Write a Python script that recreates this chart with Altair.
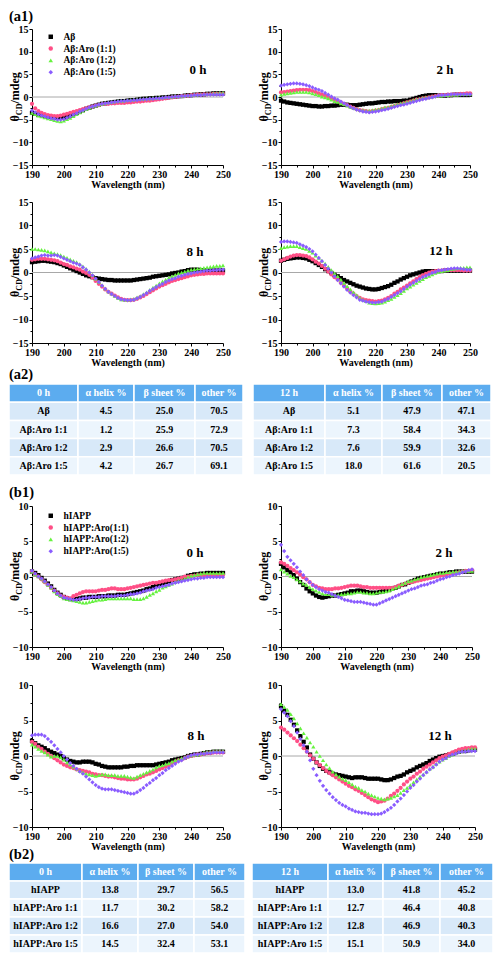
import altair as alt
import pandas as pd

WAVELENGTH = list(range(190, 251))

AB_SERIES = ["Aβ", "Aβ:Aro (1:1)", "Aβ:Aro (1:2)", "Aβ:Aro (1:5)"]
IAPP_SERIES = ["hIAPP", "hIAPP:Aro(1:1)", "hIAPP:Aro(1:2)", "hIAPP:Aro(1:5)"]

# ---------------- (a1) Abeta, 0 h ----------------
AB_0H_CTRL = [-3.5, -3.7, -3.9, -4.0, -4.2, -4.3, -4.4, -4.5, -4.6, -4.6,
              -4.5, -4.3, -4.1, -3.8, -3.5, -3.2, -2.9, -2.6, -2.4, -2.1,
              -1.9, -1.7, -1.5, -1.4, -1.3, -1.2, -1.1, -1.0, -0.9, -0.9,
              -0.8, -0.7, -0.7, -0.6, -0.5, -0.4, -0.4, -0.3, -0.3, -0.2,
              -0.2, -0.1, -0.1, 0.0, 0.1, 0.1, 0.2, 0.2, 0.3, 0.4,
              0.4, 0.5, 0.5, 0.6, 0.6, 0.7, 0.7, 0.8, 0.8, 0.8, 0.8]
AB_0H_R11 = [-1.5, -2.5, -3.1, -3.5, -3.8, -4.0, -4.1, -4.2, -4.2, -4.1,
             -3.9, -3.7, -3.5, -3.3, -3.1, -2.9, -2.7, -2.5, -2.3, -2.1,
             -1.9, -1.8, -1.6, -1.5, -1.5, -1.4, -1.4, -1.3, -1.3, -1.3,
             -1.2, -1.2, -1.1, -1.0, -1.0, -0.9, -0.8, -0.8, -0.7, -0.6,
             -0.5, -0.4, -0.3, -0.2, -0.1, 0.0, 0.1, 0.2, 0.2, 0.3,
             0.4, 0.4, 0.5, 0.5, 0.6, 0.6, 0.6, 0.7, 0.7, 0.7, 0.7]
AB_0H_R12 = [-3.5, -3.8, -4.1, -4.3, -4.5, -4.7, -4.9, -5.1, -5.3, -5.4,
             -5.2, -4.9, -4.6, -4.2, -3.8, -3.4, -3.0, -2.7, -2.4, -2.1,
             -1.9, -1.7, -1.5, -1.3, -1.2, -1.1, -1.0, -0.9, -0.8, -0.8,
             -0.7, -0.6, -0.6, -0.5, -0.4, -0.4, -0.3, -0.3, -0.2, -0.2,
             -0.1, -0.1, 0.0, 0.0, 0.1, 0.2, 0.2, 0.3, 0.3, 0.4,
             0.4, 0.5, 0.5, 0.6, 0.6, 0.7, 0.7, 0.8, 0.8, 0.9, 0.9]
AB_0H_R15 = [-3.0, -3.4, -3.8, -4.1, -4.3, -4.5, -4.7, -4.8, -5.0, -5.0,
             -4.9, -4.6, -4.3, -3.9, -3.6, -3.2, -2.9, -2.6, -2.3, -2.1,
             -1.9, -1.7, -1.5, -1.4, -1.3, -1.2, -1.1, -1.0, -0.9, -0.9,
             -0.8, -0.8, -0.7, -0.7, -0.6, -0.5, -0.5, -0.4, -0.4, -0.3,
             -0.3, -0.2, -0.1, -0.1, 0.0, 0.1, 0.1, 0.2, 0.2, 0.3,
             0.3, 0.4, 0.4, 0.4, 0.5, 0.5, 0.5, 0.5, 0.5, 0.5, 0.5]

# ---------------- (a1) Abeta, 2 h ----------------
AB_2H_CTRL = [-0.8, -1.0, -1.2, -1.3, -1.4, -1.5, -1.6, -1.7, -1.8, -1.9,
              -2.0, -2.0, -2.1, -2.1, -2.0, -2.0, -1.9, -1.9, -1.8, -1.7,
              -1.7, -1.7, -1.8, -1.8, -1.8, -1.7, -1.6, -1.5, -1.4, -1.4,
              -1.3, -1.2, -1.1, -1.1, -1.0, -1.0, -0.9, -0.9, -0.9, -0.8,
              -0.8, -0.6, -0.4, -0.2, 0.0, 0.2, 0.3, 0.4, 0.4, 0.4,
              0.3, 0.3, 0.3, 0.4, 0.4, 0.5, 0.5, 0.5, 0.5, 0.5, 0.5]
AB_2H_R11 = [1.0, 1.1, 1.2, 1.3, 1.4, 1.5, 1.6, 1.6, 1.6, 1.5,
             1.3, 1.1, 0.8, 0.5, 0.3, 0.0, -0.3, -0.6, -0.9, -1.2,
             -1.5, -1.8, -2.1, -2.4, -2.7, -2.9, -3.0, -3.1, -3.2, -3.1,
             -3.0, -2.9, -2.7, -2.5, -2.4, -2.2, -2.0, -1.8, -1.6, -1.4,
             -1.2, -1.0, -0.8, -0.6, -0.5, -0.3, -0.2, -0.1, 0.1, 0.2,
             0.3, 0.4, 0.4, 0.5, 0.5, 0.6, 0.6, 0.7, 0.7, 0.8, 0.8]
AB_2H_R12 = [0.5, 0.7, 0.8, 0.9, 1.0, 1.1, 1.1, 1.1, 1.1, 1.0,
             0.8, 0.6, 0.4, 0.1, -0.1, -0.3, -0.6, -0.9, -1.1, -1.4,
             -1.6, -1.9, -2.2, -2.4, -2.6, -2.8, -2.9, -3.0, -3.0, -2.9,
             -2.8, -2.7, -2.5, -2.3, -2.2, -2.0, -1.8, -1.6, -1.4, -1.3,
             -1.1, -0.9, -0.7, -0.5, -0.4, -0.2, -0.1, 0.0, 0.1, 0.2,
             0.3, 0.3, 0.4, 0.4, 0.5, 0.5, 0.5, 0.6, 0.6, 0.6, 0.6]
AB_2H_R15 = [2.5, 2.7, 2.8, 2.9, 3.0, 3.0, 2.9, 2.8, 2.6, 2.4,
             2.1, 1.8, 1.6, 1.3, 0.9, 0.5, 0.1, -0.3, -0.6, -1.0,
             -1.4, -1.8, -2.2, -2.5, -2.8, -3.0, -3.2, -3.3, -3.4, -3.3,
             -3.2, -3.1, -2.9, -2.8, -2.6, -2.4, -2.2, -2.0, -1.8, -1.7,
             -1.5, -1.3, -1.1, -0.9, -0.7, -0.5, -0.4, -0.2, -0.1, 0.1,
             0.3, 0.4, 0.4, 0.5, 0.6, 0.6, 0.6, 0.6, 0.6, 0.6, 0.6]

# ---------------- (a1) Abeta, 8 h ----------------
AB_8H_CTRL = [2.2, 2.3, 2.4, 2.5, 2.5, 2.4, 2.3, 2.2, 2.0, 1.8,
              1.5, 1.2, 0.9, 0.6, 0.3, 0.0, -0.3, -0.6, -0.8, -1.0,
              -1.2, -1.3, -1.4, -1.5, -1.6, -1.6, -1.7, -1.7, -1.7, -1.7,
              -1.7, -1.7, -1.6, -1.5, -1.4, -1.3, -1.2, -1.1, -0.9, -0.8,
              -0.7, -0.6, -0.5, -0.4, -0.2, -0.1, 0.0, 0.2, 0.3, 0.5,
              0.6, 0.6, 0.6, 0.5, 0.5, 0.4, 0.4, 0.4, 0.4, 0.4, 0.4]
AB_8H_R11 = [2.7, 2.8, 2.9, 2.9, 2.9, 2.8, 2.7, 2.6, 2.4, 2.1,
             1.8, 1.6, 1.3, 1.1, 0.8, 0.6, 0.2, -0.1, -0.5, -1.1,
             -1.8, -2.4, -3.0, -3.6, -4.1, -4.5, -4.9, -5.3, -5.6, -5.8,
             -5.9, -5.9, -5.8, -5.6, -5.3, -5.0, -4.6, -4.2, -3.8, -3.4,
             -3.0, -2.7, -2.4, -2.1, -1.8, -1.6, -1.4, -1.2, -1.0, -0.8,
             -0.6, -0.5, -0.4, -0.3, -0.3, -0.2, -0.2, -0.2, -0.2, -0.2, -0.2]
AB_8H_R12 = [5.0, 5.0, 4.9, 4.8, 4.7, 4.5, 4.3, 4.1, 3.9, 3.7,
             3.4, 3.1, 2.8, 2.5, 2.2, 1.8, 1.3, 0.8, 0.2, -0.5,
             -1.3, -2.0, -2.7, -3.4, -4.0, -4.5, -5.0, -5.4, -5.7, -5.8,
             -5.8, -5.7, -5.6, -5.3, -5.0, -4.6, -4.2, -3.7, -3.2, -2.8,
             -2.3, -1.9, -1.5, -1.1, -0.8, -0.5, -0.2, 0.0, 0.2, 0.4,
             0.6, 0.7, 0.8, 0.9, 1.0, 1.1, 1.2, 1.3, 1.4, 1.4, 1.5]
AB_8H_R15 = [3.0, 3.2, 3.4, 3.6, 3.7, 3.6, 3.6, 3.7, 3.6, 3.3,
             3.0, 2.7, 2.4, 2.1, 1.9, 1.6, 1.1, 0.6, 0.0, -0.6,
             -1.3, -2.0, -2.8, -3.5, -4.1, -4.6, -5.0, -5.4, -5.7, -5.8,
             -5.9, -5.9, -5.8, -5.5, -5.2, -4.8, -4.4, -3.9, -3.5, -3.1,
             -2.7, -2.4, -2.0, -1.7, -1.4, -1.2, -0.9, -0.7, -0.5, -0.3,
             -0.2, 0.0, 0.1, 0.2, 0.3, 0.4, 0.4, 0.5, 0.5, 0.6, 0.6]

# ---------------- (a1) Abeta, 12 h ----------------
AB_12H_CTRL = [2.5, 2.7, 2.9, 3.0, 3.1, 3.2, 3.2, 3.1, 3.0, 2.7,
               2.4, 2.0, 1.6, 1.2, 0.7, 0.3, -0.1, -0.5, -0.8, -1.2,
               -1.6, -1.9, -2.2, -2.5, -2.8, -3.0, -3.2, -3.4, -3.5, -3.6,
               -3.6, -3.5, -3.3, -3.1, -2.9, -2.6, -2.2, -1.9, -1.5, -1.2,
               -0.9, -0.6, -0.4, -0.2, 0.0, 0.2, 0.3, 0.3, 0.3, 0.3,
               0.3, 0.3, 0.4, 0.4, 0.4, 0.4, 0.4, 0.4, 0.4, 0.4, 0.4]
AB_12H_R11 = [2.5, 2.8, 3.1, 3.4, 3.6, 3.7, 3.7, 3.6, 3.5, 3.2,
              2.8, 2.3, 1.9, 1.4, 0.8, 0.2, -0.4, -1.0, -1.5, -2.2,
              -2.8, -3.4, -4.0, -4.5, -5.0, -5.4, -5.7, -5.9, -6.0, -6.1,
              -6.2, -6.1, -6.0, -5.7, -5.4, -5.0, -4.5, -4.1, -3.6, -3.2,
              -2.8, -2.3, -1.9, -1.4, -1.0, -0.6, -0.3, 0.0, 0.2, 0.3,
              0.4, 0.4, 0.5, 0.5, 0.5, 0.5, 0.5, 0.5, 0.4, 0.4, 0.4]
AB_12H_R12 = [5.2, 5.4, 5.5, 5.6, 5.6, 5.6, 5.4, 5.2, 5.0, 4.6,
              4.2, 3.6, 3.1, 2.5, 1.9, 1.2, 0.5, -0.2, -0.8, -1.5,
              -2.2, -2.9, -3.6, -4.2, -4.8, -5.4, -5.8, -6.1, -6.4, -6.5,
              -6.6, -6.5, -6.4, -6.2, -5.9, -5.6, -5.2, -4.8, -4.4, -3.9,
              -3.4, -3.0, -2.6, -2.2, -1.8, -1.4, -1.0, -0.7, -0.4, -0.1,
              0.1, 0.3, 0.4, 0.5, 0.7, 0.8, 0.9, 1.0, 1.0, 1.1, 1.1]
AB_12H_R15 = [6.5, 6.6, 6.6, 6.5, 6.4, 6.3, 6.0, 5.7, 5.4, 5.0,
              4.5, 3.8, 3.1, 2.4, 1.6, 0.8, 0.0, -0.8, -1.6, -2.3,
              -3.0, -3.7, -4.3, -4.8, -5.3, -5.8, -6.0, -6.2, -6.3, -6.4,
              -6.4, -6.3, -6.2, -5.9, -5.6, -5.2, -4.8, -4.4, -4.0, -3.5,
              -3.0, -2.6, -2.2, -1.8, -1.4, -1.0, -0.7, -0.4, -0.1, 0.1,
              0.4, 0.5, 0.6, 0.7, 0.8, 0.9, 0.9, 0.8, 0.7, 0.6, 0.6]

# ---------------- (b1) hIAPP, 0 h ----------------
IAPP_0H_CTRL = [0.7, 0.5, 0.2, -0.2, -0.6, -1.0, -1.4, -1.9, -2.3, -2.6,
                -2.9, -3.1, -3.2, -3.2, -3.2, -3.1, -3.0, -3.0, -2.9, -2.9,
                -2.9, -2.8, -2.8, -2.8, -2.7, -2.7, -2.7, -2.6, -2.6, -2.6,
                -2.5, -2.4, -2.3, -2.2, -2.1, -2.0, -1.8, -1.7, -1.5, -1.3,
                -1.1, -1.0, -0.8, -0.7, -0.5, -0.4, -0.3, -0.2, -0.1, 0.1,
                0.2, 0.3, 0.3, 0.4, 0.4, 0.5, 0.5, 0.5, 0.5, 0.5, 0.5]
IAPP_0H_R11 = [0.7, 0.3, 0.0, -0.4, -0.8, -1.2, -1.6, -2.0, -2.4, -2.7,
               -2.9, -3.0, -3.1, -2.8, -2.6, -2.4, -2.2, -2.1, -2.1, -2.1,
               -2.1, -2.0, -1.9, -1.9, -1.8, -1.7, -1.7, -1.8, -1.8, -1.8,
               -1.7, -1.6, -1.5, -1.4, -1.3, -1.2, -1.1, -1.0, -0.9, -0.9,
               -0.8, -0.7, -0.6, -0.5, -0.5, -0.4, -0.3, -0.2, 0.0, 0.0,
               0.1, 0.1, 0.2, 0.2, 0.2, 0.2, 0.2, 0.2, 0.2, 0.2, 0.2]
IAPP_0H_R12 = [0.7, 0.3, 0.0, -0.3, -0.7, -1.2, -1.6, -2.1, -2.5, -2.8,
               -3.1, -3.2, -3.3, -3.4, -3.5, -3.6, -3.7, -3.7, -3.6, -3.5,
               -3.4, -3.3, -3.3, -3.2, -3.1, -3.1, -3.1, -3.1, -3.1, -3.1,
               -3.1, -3.1, -3.2, -3.2, -3.2, -3.1, -2.9, -2.6, -2.4, -2.1,
               -1.9, -1.6, -1.4, -1.2, -1.0, -0.8, -0.6, -0.5, -0.3, -0.1,
               0.1, 0.2, 0.3, 0.4, 0.5, 0.5, 0.5, 0.5, 0.5, 0.5, 0.5]
IAPP_0H_R15 = [0.8, 0.4, 0.0, -0.3, -0.7, -1.1, -1.5, -2.0, -2.4, -2.7,
               -3.0, -3.1, -3.2, -3.3, -3.3, -3.2, -3.1, -3.0, -3.0, -2.9,
               -2.9, -2.9, -2.8, -2.8, -2.8, -2.8, -2.8, -2.7, -2.7, -2.7,
               -2.6, -2.5, -2.5, -2.4, -2.3, -2.1, -2.0, -1.9, -1.8, -1.6,
               -1.5, -1.4, -1.3, -1.2, -1.0, -0.9, -0.8, -0.7, -0.6, -0.5,
               -0.4, -0.3, -0.3, -0.2, -0.2, -0.1, -0.1, -0.1, -0.1, -0.1, -0.1]

# ---------------- (b1) hIAPP, 2 h ----------------
IAPP_2H_CTRL = [1.8, 1.3, 0.9, 0.6, 0.2, -0.3, -0.8, -1.2, -1.7, -2.1,
                -2.4, -2.7, -2.9, -3.0, -2.9, -2.8, -2.7, -2.7, -2.6, -2.5,
                -2.4, -2.3, -2.1, -2.1, -2.0, -2.0, -2.1, -2.2, -2.3, -2.3,
                -2.3, -2.2, -2.1, -2.0, -1.9, -1.7, -1.6, -1.4, -1.2, -1.1,
                -0.9, -0.7, -0.5, -0.3, -0.2, -0.1, 0.0, 0.1, 0.2, 0.3,
                0.4, 0.4, 0.5, 0.6, 0.6, 0.7, 0.7, 0.7, 0.7, 0.7, 0.7]
IAPP_2H_R11 = [2.0, 1.8, 1.5, 1.2, 0.9, 0.6, 0.3, -0.1, -0.4, -0.8,
               -1.2, -1.4, -1.6, -1.7, -1.8, -1.8, -1.8, -1.7, -1.7, -1.6,
               -1.5, -1.4, -1.3, -1.3, -1.3, -1.4, -1.5, -1.5, -1.6, -1.6,
               -1.6, -1.6, -1.6, -1.6, -1.6, -1.6, -1.5, -1.3, -1.2, -1.0,
               -0.9, -0.8, -0.7, -0.6, -0.5, -0.4, -0.3, -0.2, -0.1, 0.0,
               0.1, 0.2, 0.3, 0.4, 0.4, 0.5, 0.6, 0.7, 0.8, 0.8, 0.9]
IAPP_2H_R12 = [1.0, 0.7, 0.4, 0.1, -0.1, -0.4, -0.7, -1.0, -1.2, -1.5,
               -1.8, -2.0, -2.2, -2.4, -2.5, -2.5, -2.6, -2.6, -2.6, -2.5,
               -2.5, -2.4, -2.4, -2.3, -2.2, -2.2, -2.3, -2.3, -2.4, -2.4,
               -2.3, -2.2, -2.2, -2.1, -2.0, -1.8, -1.6, -1.4, -1.1, -0.9,
               -0.7, -0.6, -0.4, -0.3, -0.1, 0.0, 0.1, 0.2, 0.3, 0.4,
               0.5, 0.5, 0.6, 0.6, 0.7, 0.7, 0.7, 0.8, 0.8, 0.8, 0.8]
IAPP_2H_R15 = [4.5, 3.6, 2.8, 2.3, 1.8, 1.3, 0.7, 0.2, -0.4, -0.8,
               -1.2, -1.5, -1.8, -2.0, -2.2, -2.3, -2.5, -2.7, -2.9, -3.1,
               -3.3, -3.4, -3.5, -3.6, -3.6, -3.6, -3.7, -3.8, -3.9, -4.0,
               -4.0, -3.8, -3.6, -3.4, -3.2, -3.0, -2.8, -2.6, -2.4, -2.2,
               -2.0, -1.8, -1.7, -1.5, -1.3, -1.2, -1.1, -0.9, -0.8, -0.6,
               -0.4, -0.3, -0.1, 0.0, 0.2, 0.3, 0.4, 0.6, 0.7, 0.9, 1.0]

# ---------------- (b1) hIAPP, 8 h ----------------
IAPP_8H_CTRL = [2.1, 1.8, 1.5, 1.3, 1.1, 0.8, 0.6, 0.4, 0.2, 0.0,
                -0.3, -0.5, -0.7, -0.8, -0.9, -0.9, -0.8, -0.8, -0.8, -0.9,
                -1.1, -1.2, -1.4, -1.5, -1.6, -1.6, -1.6, -1.6, -1.6, -1.5,
                -1.5, -1.4, -1.4, -1.3, -1.3, -1.3, -1.3, -1.3, -1.3, -1.2,
                -1.1, -1.0, -0.9, -0.8, -0.6, -0.5, -0.4, -0.3, -0.2, 0.0,
                0.1, 0.2, 0.2, 0.3, 0.4, 0.5, 0.5, 0.6, 0.6, 0.6, 0.6]
IAPP_8H_R11 = [2.0, 1.7, 1.3, 1.0, 0.6, 0.3, 0.0, -0.3, -0.6, -0.9,
               -1.2, -1.4, -1.6, -1.7, -1.9, -2.0, -2.1, -2.2, -2.3, -2.5,
               -2.6, -2.7, -2.7, -2.8, -2.9, -2.9, -3.0, -3.1, -3.2, -3.2,
               -3.3, -3.3, -3.3, -3.2, -3.0, -2.8, -2.6, -2.5, -2.3, -2.1,
               -1.9, -1.7, -1.5, -1.3, -1.0, -0.8, -0.6, -0.5, -0.3, -0.1,
               0.0, 0.1, 0.2, 0.2, 0.3, 0.4, 0.4, 0.5, 0.5, 0.5, 0.5]
IAPP_8H_R12 = [1.6, 1.3, 1.0, 0.7, 0.5, 0.2, -0.1, 0.0, 0.0, -0.2,
               -0.5, -0.9, -1.2, -1.5, -1.8, -2.1, -2.3, -2.5, -2.6, -2.7,
               -2.8, -2.7, -2.6, -2.6, -2.7, -2.7, -2.7, -2.8, -2.8, -2.8,
               -2.9, -3.0, -3.1, -2.9, -2.7, -2.5, -2.3, -2.1, -1.9, -1.6,
               -1.4, -1.3, -1.1, -1.0, -0.8, -0.6, -0.5, -0.3, -0.2, 0.0,
               0.1, 0.2, 0.2, 0.3, 0.5, 0.6, 0.6, 0.7, 0.7, 0.7, 0.7]
IAPP_8H_R15 = [2.9, 3.0, 3.0, 3.0, 2.8, 2.4, 2.0, 1.5, 1.0, 0.5,
               0.0, -0.5, -1.0, -1.4, -1.8, -2.2, -2.5, -2.9, -3.3, -3.7,
               -4.1, -4.4, -4.6, -4.7, -4.7, -4.7, -4.8, -4.9, -5.0, -5.1,
               -5.2, -5.3, -5.3, -5.1, -4.8, -4.5, -4.1, -3.8, -3.4, -3.1,
               -2.7, -2.4, -2.0, -1.7, -1.4, -1.1, -0.8, -0.6, -0.3, -0.1,
               0.1, 0.2, 0.2, 0.3, 0.3, 0.4, 0.4, 0.5, 0.5, 0.5, 0.5]

# ---------------- (b1) hIAPP, 12 h ----------------
IAPP_12H_CTRL = [7.0, 6.4, 5.8, 5.1, 4.4, 3.6, 2.8, 2.0, 1.2, 0.2,
                 -0.4, -0.9, -1.4, -1.8, -2.1, -2.3, -2.5, -2.6, -2.7, -2.8,
                 -2.9, -3.0, -3.1, -3.0, -3.0, -3.0, -3.1, -3.2, -3.2, -3.2,
                 -3.2, -3.3, -3.4, -3.4, -3.3, -3.1, -2.9, -2.8, -2.6, -2.3,
                 -2.1, -1.9, -1.6, -1.4, -1.2, -1.0, -0.7, -0.5, -0.3, -0.1,
                 0.0, 0.1, 0.2, 0.3, 0.5, 0.6, 0.7, 0.7, 0.8, 0.9, 0.9]
IAPP_12H_R11 = [4.0, 3.7, 3.3, 2.9, 2.5, 2.1, 1.6, 1.1, 0.6, 0.1,
                -0.4, -0.9, -1.3, -1.7, -2.1, -2.4, -2.7, -3.0, -3.3, -3.6,
                -3.9, -4.2, -4.4, -4.7, -4.9, -5.2, -5.5, -5.8, -6.1, -6.3,
                -6.5, -6.4, -6.3, -6.0, -5.6, -5.3, -4.9, -4.5, -4.0, -3.6,
                -3.2, -2.9, -2.5, -2.2, -1.8, -1.5, -1.2, -0.9, -0.6, -0.3,
                -0.1, 0.1, 0.3, 0.5, 0.7, 0.9, 1.0, 1.1, 1.1, 1.2, 1.2]
IAPP_12H_R12 = [7.3, 6.9, 6.5, 5.9, 5.3, 4.6, 3.9, 3.2, 2.6, 1.9,
                1.3, 0.6, 0.0, -0.6, -1.2, -1.7, -2.2, -2.6, -2.9, -3.2,
                -3.4, -3.7, -4.0, -4.3, -4.5, -4.8, -5.0, -5.3, -5.5, -5.7,
                -5.9, -6.0, -6.1, -6.0, -5.9, -5.7, -5.5, -5.2, -4.8, -4.5,
                -4.1, -3.7, -3.3, -2.9, -2.6, -2.2, -1.8, -1.5, -1.1, -0.8,
                -0.5, -0.3, 0.0, 0.2, 0.4, 0.6, 0.7, 0.8, 0.9, 1.0, 1.0]
IAPP_12H_R15 = [6.6, 6.1, 5.6, 4.9, 4.2, 3.3, 2.4, 1.5, 0.6, -0.6,
                -1.8, -2.7, -3.5, -4.2, -4.8, -5.3, -5.8, -6.2, -6.6, -6.9,
                -7.1, -7.4, -7.6, -7.8, -7.9, -8.0, -8.0, -8.1, -8.2, -8.2,
                -8.2, -8.1, -7.9, -7.6, -7.3, -6.9, -6.4, -6.0, -5.5, -5.0,
                -4.5, -4.1, -3.6, -3.2, -2.7, -2.3, -1.9, -1.6, -1.2, -0.8,
                -0.5, -0.3, 0.0, 0.2, 0.3, 0.5, 0.6, 0.6, 0.7, 0.7, 0.7]

# ---------------- tables (a2) and (b2) ----------------
TABLE_COLUMNS = ["α helix %", "β sheet %", "other %"]
AB_TABLE_ROWS = ["Aβ", "Aβ:Aro 1:1", "Aβ:Aro 1:2", "Aβ:Aro 1:5"]
IAPP_TABLE_ROWS = ["hIAPP", "hIAPP:Aro 1:1", "hIAPP:Aro 1:2", "hIAPP:Aro 1:5"]

AB_0H_HELIX = [4.5, 1.2, 2.9, 4.2]
AB_0H_SHEET = [25.0, 25.9, 26.6, 26.7]
AB_0H_OTHER = [70.5, 72.9, 70.5, 69.1]
AB_12H_HELIX = [5.1, 7.3, 7.6, 18.0]
AB_12H_SHEET = [47.9, 58.4, 59.9, 61.6]
AB_12H_OTHER = [47.1, 34.3, 32.6, 20.5]
IAPP_0H_HELIX = [13.8, 11.7, 16.6, 14.5]
IAPP_0H_SHEET = [29.7, 30.2, 27.0, 32.4]
IAPP_0H_OTHER = [56.5, 58.2, 54.0, 53.1]
IAPP_12H_HELIX = [13.0, 12.7, 12.8, 15.1]
IAPP_12H_SHEET = [41.8, 46.4, 46.9, 50.9]
IAPP_12H_OTHER = [45.2, 40.8, 40.3, 34.0]

# y-axis title pieces: theta, subscript "CD", "/mdeg"
YTITLE_MAIN = "θ"
YTITLE_SUB = "CD"
YTITLE_TAIL = "/mdeg"

# ---------------- styling ----------------
SERIF = "Liberation Serif"
SERIES_COLORS = ["#000000", "#ff4f86", "#66f23f", "#8a5cff"]
SERIES_SHAPES = ["square", "circle", "triangle-up", "diamond"]
HEADER_BLUE = "#5cacef"
ROW_BLUE = "#d8e9f9"
ROW_PALE = "#ecf5fd"


def long_frame(series, arrays):
    rows = []
    for name, vals in zip(series, arrays):
        if len(vals) != len(WAVELENGTH):
            raise ValueError(f"{name}: {len(vals)} values")
        for w, v in zip(WAVELENGTH, vals):
            rows.append({"wl": w, "cd": v, "series": name})
    return pd.DataFrame(rows)


def note(text, x, y, size, angle=0, align="left", baseline="alphabetic", color="black"):
    return alt.Chart(pd.DataFrame({"t": [text]})).mark_text(
        font=SERIF, fontWeight="bold", fontSize=size, align=align, baseline=baseline,
        angle=angle, color=color).encode(text="t:N", x=alt.value(x), y=alt.value(y))


def cd_panel(series, arrays, label, ydomain, width, height, label_xy, legend_xy=None):
    df = long_frame(series, arrays)
    xscale = alt.Scale(domain=[190, 250], nice=False, zero=False)
    yscale = alt.Scale(domain=list(ydomain), nice=False, zero=False)
    xenc = alt.X("wl:Q", scale=xscale,
                 axis=alt.Axis(values=list(range(190, 251, 10)), title="Wavelength (nm)",
                               titlePadding=0, orient="bottom"))
    yenc = alt.Y("cd:Q", scale=yscale,
                 axis=alt.Axis(values=list(range(ydomain[0], ydomain[1] + 1, 5)),
                               title=None, orient="left"))
    minor_y = [v + 2.5 for v in range(ydomain[0], ydomain[1], 5)]
    xminor = alt.X("wl:Q", scale=xscale,
                   axis=alt.Axis(values=list(range(195, 250, 10)), labels=False, title=None,
                                 domain=False, tickSize=2, orient="bottom"))
    yminor = alt.Y("cd:Q", scale=yscale,
                   axis=alt.Axis(values=minor_y, labels=False, title=None,
                                 domain=False, tickSize=2, orient="left"))
    if legend_xy is not None:
        leg = alt.Legend(orient="none", legendX=legend_xy[0], legendY=legend_xy[1], title=None,
                         labelFont=SERIF, labelFontWeight="bold", labelFontSize=9.5,
                         labelColor="black", symbolSize=20, rowPadding=0.8, padding=0,
                         labelOffset=8, symbolStrokeWidth=0)
    else:
        leg = None
    zero = alt.Chart(pd.DataFrame({"z": [0]})).mark_rule(color="#a8a8a8", strokeWidth=1).encode(
        y=alt.YDatum(0, axis=None))
    pts = alt.Chart(df).mark_point(filled=True, size=18, opacity=1).encode(
        x=xenc, y=yenc,
        color=alt.Color("series:N", scale=alt.Scale(domain=series, range=SERIES_COLORS), legend=leg),
        shape=alt.Shape("series:N", scale=alt.Scale(domain=series, range=SERIES_SHAPES), legend=leg),
    )
    minor = alt.Chart(df).mark_point(opacity=0, size=1).encode(x=xminor, y=yminor)
    txt = note(label, label_xy[0], label_xy[1], 13, align="center")
    # rotated y title "θ_CD/mdeg" with a real subscript
    bx = -13.5
    w_main, w_sub = 6.3, 11.6
    total = w_main + w_sub + 31.0
    y0 = height / 2 + total / 2
    t_main = note(YTITLE_MAIN, bx, y0, 12, angle=270)
    t_sub = note(YTITLE_SUB, bx + 3, y0 - w_main, 8, angle=270)
    t_tail = note(YTITLE_TAIL, bx, y0 - w_main - w_sub, 12, angle=270)
    return alt.layer(zero, pts, minor, txt, t_main, t_sub, t_tail).resolve_axis(
        x="independent", y="independent").properties(width=width, height=height)


def spacer(height, width, label="", label_y=None):
    if label_y is None:
        label_y = height - 2
    return note(label, -23 if label else 0, label_y, 14.5).properties(width=width, height=height)


def table(first_header, row_labels, helix, sheet, other, col_widths, x_extent, width, height):
    headers = [first_header] + TABLE_COLUMNS
    values = [helix, sheet, other]
    edges = [0]
    for w in col_widths:
        edges.append(edges[-1] + w)
    cells = []
    for r in range(5):
        for c in range(4):
            if r == 0:
                txt = headers[c]
            elif c == 0:
                txt = row_labels[r - 1]
            else:
                txt = f"{values[c - 1][r - 1]:.1f}"
            cells.append({"row": r, "left": edges[c], "right": edges[c + 1],
                          "mid": (edges[c] + edges[c + 1]) / 2, "text": txt})
    df = pd.DataFrame(cells)
    xs = alt.Scale(domain=[0, edges[-1]], range=list(x_extent), nice=False, zero=False)
    ys = alt.Scale(domain=[0, 1, 2, 3, 4], paddingInner=0, paddingOuter=0)
    base = alt.Chart(df)
    rects = base.mark_rect(stroke="white", strokeWidth=1.5).encode(
        x=alt.X("left:Q", scale=xs, axis=None), x2="right:Q",
        y=alt.Y("row:O", scale=ys, axis=None),
        fill=alt.Fill("row:O", scale=alt.Scale(domain=[0, 1, 2, 3, 4],
                                               range=[HEADER_BLUE, ROW_BLUE, ROW_PALE, ROW_BLUE, ROW_PALE]),
                      legend=None))
    head = base.transform_filter("datum.row == 0").mark_text(
        font=SERIF, fontWeight="bold", fontSize=10, color="white").encode(
        x=alt.X("mid:Q", scale=xs, axis=None), y=alt.Y("row:O", scale=ys, axis=None), text="text:N")
    body = base.transform_filter("datum.row > 0").mark_text(
        font=SERIF, fontWeight="bold", fontSize=10, color="black").encode(
        x=alt.X("mid:Q", scale=xs, axis=None), y=alt.Y("row:O", scale=ys, axis=None), text="text:N")
    return alt.layer(rects, head, body).properties(width=width, height=height)


AB_DOM = (-15, 15)
IAPP_DOM = (-10, 10)

a0 = cd_panel(AB_SERIES, [AB_0H_CTRL, AB_0H_R11, AB_0H_R12, AB_0H_R15], "0 h", AB_DOM, 191, 136,
              (166, 45), legend_xy=(14, 3))
a2 = cd_panel(AB_SERIES, [AB_2H_CTRL, AB_2H_R11, AB_2H_R12, AB_2H_R15], "2 h", AB_DOM, 189, 136,
              (164, 45))
a8 = cd_panel(AB_SERIES, [AB_8H_CTRL, AB_8H_R11, AB_8H_R12, AB_8H_R15], "8 h", AB_DOM, 191, 141,
              (163, 54))
a12 = cd_panel(AB_SERIES, [AB_12H_CTRL, AB_12H_R11, AB_12H_R12, AB_12H_R15], "12 h", AB_DOM, 189, 141,
               (160, 53))
b0 = cd_panel(IAPP_SERIES, [IAPP_0H_CTRL, IAPP_0H_R11, IAPP_0H_R12, IAPP_0H_R15], "0 h", IAPP_DOM,
              191, 141, (163, 51), legend_xy=(14, 5))
b2 = cd_panel(IAPP_SERIES, [IAPP_2H_CTRL, IAPP_2H_R11, IAPP_2H_R12, IAPP_2H_R15], "2 h", IAPP_DOM,
              191, 141, (163, 51))
b8 = cd_panel(IAPP_SERIES, [IAPP_8H_CTRL, IAPP_8H_R11, IAPP_8H_R12, IAPP_8H_R15], "8 h", IAPP_DOM,
              191, 142, (164, 55))
b12 = cd_panel(IAPP_SERIES, [IAPP_12H_CTRL, IAPP_12H_R11, IAPP_12H_R12, IAPP_12H_R15], "12 h", IAPP_DOM,
               194, 142, (159, 55))

tA_left = table("0 h", AB_TABLE_ROWS, AB_0H_HELIX, AB_0H_SHEET, AB_0H_OTHER,
                [69, 56, 61, 48], (-23, 211), 191, 91)
tA_right = table("12 h", AB_TABLE_ROWS, AB_12H_HELIX, AB_12H_SHEET, AB_12H_OTHER,
                 [72, 57, 60, 49], (-28, 210), 189, 91)
tB_left = table("0 h", IAPP_TABLE_ROWS, IAPP_0H_HELIX, IAPP_0H_SHEET, IAPP_0H_OTHER,
                [73, 56, 56, 51], (-23, 213), 191, 90)
tB_right = table("12 h", IAPP_TABLE_ROWS, IAPP_12H_HELIX, IAPP_12H_SHEET, IAPP_12H_OTHER,
                 [76, 55, 57, 53], (-29, 212), 191, 90)

cells = [
    spacer(20, 191, "(a1)", 11.5), spacer(20, 189),
    a0, a2,
    spacer(37, 191), spacer(37, 189),
    a8, a12,
    spacer(41, 191, "(a2)", 36), spacer(41, 189),
    tA_left, tA_right,
    spacer(31, 191, "(b1)", 22), spacer(31, 191),
    b0, b2,
    spacer(38, 191), spacer(38, 191),
    b8, b12,
    spacer(36, 191, "(b2)", 32), spacer(36, 191),
    tB_left, tB_right,
]

chart = alt.concat(
    *cells, columns=2, spacing={"row": 0, "column": 58}, bounds="flush", align="each"
).resolve_scale(
    color="independent", shape="independent"
).properties(
    padding=0
).configure_view(
    stroke=None
).configure_axis(
    labelFont=SERIF, labelFontWeight="bold", labelFontSize=10, labelColor="black",
    titleFont=SERIF, titleFontWeight="bold", titleFontSize=10, titleColor="black",
    domainColor="black", tickColor="black", tickSize=3, labelPadding=1, grid=False,
    labelFlush=False, labelOverlap=False, domainWidth=1, tickWidth=1,
)

chart.save("out.html", embed_options={"renderer": "svg", "actions": False})
